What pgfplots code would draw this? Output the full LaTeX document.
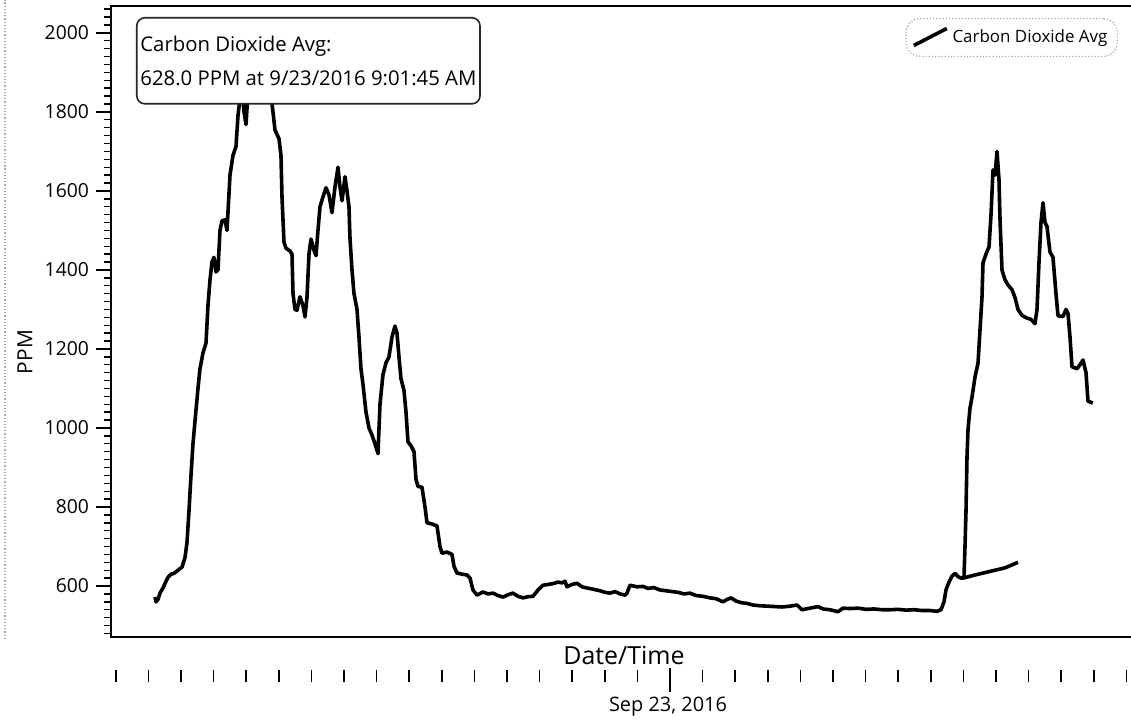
\documentclass[border=0pt]{standalone}
\usepackage{pgfplots}
\pgfplotsset{compat=1.18}
\usepackage{fontspec}
\setmainfont{Open Sans}
\begin{document}
\begin{tikzpicture}
\begin{axis}[
  scale only axis,
  width=510bp, height=315.5bp,
  xmin=-17.147, xmax=14.141,
  ymin=471, ymax=2068,
  axis line style={draw=none},
  clip=false,
  tick align=outside,
  ytick={600,800,1000,1200,1400,1600,1800,2000},
  minor ytick={480,500,...,2060},
  ytick pos=left,
  xtick pos=bottom,
  major tick length=7.5bp,
  minor tick length=3.5bp,
  major tick style={black, line width=0.8bp},
  minor tick style={black, line width=0.7bp},
  /pgf/number format/assume math mode=true,
  /pgf/number format/1000 sep={},
  yticklabel style={font=\fontsize{9.7}{11}\selectfont},
  xtick=\empty,
  extra x ticks={-17,-16,-15,-14,-13,-12,-11,-10,-9,-8,-7,-6,-5,-4,-3,-2,-1,1,2,3,4,5,6,7,8,9,10,11,12,13,14},
  extra x tick labels={},
  extra x tick style={major tick length=6bp, tick style={yshift=-16.5bp, line width=0.9bp}},
  legend image code/.code={\draw[line width=1.8bp, solid] (0bp,-4bp) -- (16.5bp,4.5bp);},
  legend style={at={(rel axis cs:1,1)}, anchor=north east, xshift=-6.5bp, yshift=-6bp,
    draw=gray!70, densely dotted, rounded corners=7bp, line width=0.6bp,
    font=\fontsize{8.5}{10}\selectfont, inner xsep=3bp, inner ysep=3.5bp},
]
\addplot[black, line width=1.8bp, line join=round, mark=none] coordinates {
(-15.798,572) (-15.767,560) (-15.706,566) (-15.644,582) (-15.552,595) (-15.460,612)
(-15.399,622) (-15.307,630) (-15.215,632) (-15.092,640) (-14.969,648) (-14.877,672)
(-14.816,710) (-14.755,790) (-14.693,880) (-14.632,960) (-14.571,1017) (-14.479,1100)
(-14.417,1150) (-14.325,1190) (-14.233,1215) (-14.172,1310) (-14.110,1375) (-14.049,1420)
(-13.988,1432) (-13.926,1395) (-13.865,1400) (-13.804,1500) (-13.742,1524) (-13.650,1527)
(-13.589,1500) (-13.497,1640) (-13.405,1690) (-13.313,1712) (-13.252,1790) (-13.190,1835)
(-13.129,1860) (-13.067,1800) (-13.006,1768) (-12.945,1850) (-12.822,1920) (-12.699,1960)
(-12.546,1975) (-12.393,1930) (-12.270,1860) (-12.178,1800) (-12.117,1754) (-11.994,1732)
(-11.933,1690) (-11.902,1585) (-11.840,1470) (-11.779,1455) (-11.656,1448) (-11.595,1440)
(-11.564,1340) (-11.503,1300) (-11.442,1298) (-11.350,1332) (-11.258,1310) (-11.196,1281)
(-11.135,1330) (-11.074,1440) (-11.012,1478) (-10.920,1450) (-10.859,1436) (-10.798,1500)
(-10.736,1560) (-10.644,1585) (-10.552,1608) (-10.460,1590) (-10.368,1545) (-10.276,1610)
(-10.184,1660) (-10.123,1610) (-10.061,1575) (-9.969,1636) (-9.908,1600) (-9.847,1560)
(-9.816,1480) (-9.755,1400) (-9.693,1340) (-9.601,1300) (-9.540,1230) (-9.479,1150)
(-9.417,1110) (-9.325,1040) (-9.233,1000) (-9.141,982) (-9.049,960) (-8.957,935)
(-8.896,1060) (-8.804,1135) (-8.712,1165) (-8.620,1180) (-8.528,1230) (-8.436,1258)
(-8.374,1240) (-8.313,1180) (-8.252,1125) (-8.160,1095) (-8.098,1040) (-8.037,965)
(-7.945,955) (-7.853,940) (-7.791,870) (-7.730,852) (-7.607,850) (-7.515,800)
(-7.454,760) (-7.301,757) (-7.147,752) (-7.055,700) (-6.994,683) (-6.840,686)
(-6.687,680) (-6.626,650) (-6.534,633) (-6.380,630) (-6.227,628) (-6.135,620)
(-6.043,590) (-5.920,577) (-5.736,585) (-5.583,580) (-5.429,582) (-5.276,576)
(-5.123,572) (-4.969,578) (-4.816,582) (-4.663,574) (-4.509,570) (-4.356,573)
(-4.202,574) (-4.049,590) (-3.896,602) (-3.742,604) (-3.589,606) (-3.436,610)
(-3.313,608) (-3.221,612) (-3.160,598) (-3.006,604) (-2.853,607) (-2.699,598)
(-2.546,595) (-2.362,592) (-2.147,588) (-1.994,584) (-1.840,582) (-1.687,586)
(-1.534,580) (-1.380,577) (-1.319,582) (-1.227,602) (-1.012,598) (-0.828,599)
(-0.675,594) (-0.491,596) (-0.307,590) (-0.123,588) (0.061,586) (0.245,584)
(0.429,580) (0.613,582) (0.798,576) (1.012,574) (1.227,570) (1.411,568)
(1.626,560) (1.748,566) (1.871,570) (2.025,562) (2.178,558) (2.362,556)
(2.546,552) (2.761,550) (3.006,549) (3.221,548) (3.436,547) (3.681,549)
(3.896,552) (4.049,540) (4.233,543) (4.417,546) (4.540,548) (4.693,542)
(4.908,540) (5.153,535) (5.307,544) (5.521,543) (5.767,544) (6.012,541)
(6.258,542) (6.503,540) (6.748,540) (6.994,541) (7.239,539) (7.485,540)
(7.730,538) (7.975,538) (8.190,536) (8.313,540) (8.405,560) (8.466,590)
(8.558,610) (8.650,625) (8.742,632) (8.834,624) (8.926,620) (9.018,621)
(9.049,700) (9.080,790) (9.110,926) (9.141,995) (9.202,1050) (9.264,1078)
(9.356,1129) (9.448,1164) (9.509,1248) (9.571,1332) (9.601,1418) (9.693,1440)
(9.785,1458) (9.847,1540) (9.908,1653) (9.969,1640) (10.031,1700) (10.092,1628)
(10.123,1527) (10.184,1400) (10.276,1375) (10.368,1362) (10.491,1350) (10.583,1330)
(10.675,1300) (10.798,1285) (10.951,1278) (11.074,1275) (11.196,1264) (11.258,1300)
(11.319,1420) (11.380,1520) (11.442,1570) (11.503,1520) (11.564,1510) (11.656,1445)
(11.748,1432) (11.840,1340) (11.902,1284) (12.055,1282) (12.147,1300) (12.209,1290)
(12.270,1230) (12.331,1155) (12.485,1150) (12.577,1160) (12.669,1172) (12.761,1140)
(12.822,1068) (12.969,1063)
};
\addlegendentry{Carbon Dioxide Avg}
\addplot[black, line width=1.8bp, line join=round, mark=none, forget plot] coordinates {
(8.988,620) (9.356,628) (9.663,634) (9.969,640) (10.276,646) (10.675,660)
};
\draw[black, line width=1.3bp] (rel axis cs:1,0) -- (rel axis cs:0,0) -- (rel axis cs:0,1) -- (rel axis cs:1,1);
\path (rel axis cs:0,1) ++(12.5bp,-5.5bp) node[draw=black!85, line width=0.8bp, fill=white,
  rounded corners=4bp, anchor=north west, align=left, inner xsep=1.8bp, inner ysep=3bp,
  minimum height=43bp, font=\fontsize{10.2}{17}\selectfont]
  {Carbon Dioxide Avg:\\628.0 PPM at 9/23/2016 9:01:45 AM};
\end{axis}
\draw[black, line width=0.9bp] (279.5bp,-15.5bp) -- (279.5bp,-27.5bp);
\node[rotate=90, font=\fontsize{10.5}{12}\selectfont] at (-43bp,142.5bp) {PPM};
\node[font=\fontsize{12.5}{14}\selectfont] at (256.5bp,-9bp) {Date/Time};
\node[anchor=base, font=\fontsize{10}{12}\selectfont] at (278.5bp,-37bp) {Sep 23, 2016};
\draw[gray!70, densely dotted, line width=0.6bp] (-53bp,-1bp) -- (-53bp,318.5bp);
\pgfresetboundingbox
\path[use as bounding box] (-55.5bp,-44.5bp) rectangle (510bp,318.5bp);
\end{tikzpicture}
\end{document}
